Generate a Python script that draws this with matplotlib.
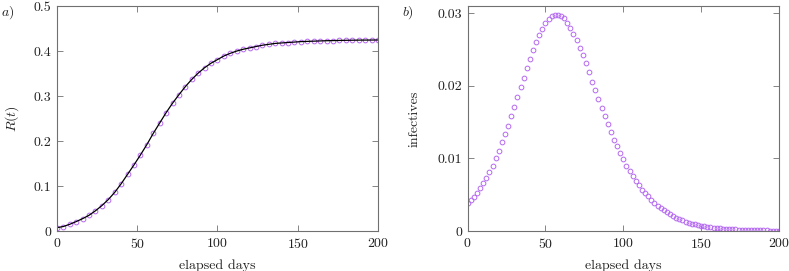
import numpy as np
import matplotlib
matplotlib.use("Agg")
import matplotlib.pyplot as plt

plt.rcParams['font.family'] = 'serif'
plt.rcParams['font.serif'] = ['cmr10']
plt.rcParams['mathtext.fontset'] = 'cm'
plt.rcParams['axes.formatter.use_mathtext'] = True

# R(t), sampled every 4 days
days_r = list(range(0, 201, 4))
r_vals = [0.0074, 0.010, 0.015, 0.021, 0.0275, 0.035, 0.045, 0.0565, 0.070, 0.086,
          0.105, 0.126, 0.147, 0.169, 0.192, 0.217, 0.240, 0.263, 0.284, 0.303,
          0.321, 0.337, 0.351, 0.363, 0.373, 0.381, 0.389, 0.395, 0.400, 0.404,
          0.407, 0.410, 0.413, 0.415, 0.417, 0.418, 0.419, 0.420, 0.421, 0.4215,
          0.422, 0.4225, 0.423, 0.4233, 0.4236, 0.4239, 0.4241, 0.4243, 0.4244, 0.4245,
          0.4246]

# infectives, sampled every 2 days
days_i = list(range(0, 201, 2))
i_vals = [0.00383, 0.00425, 0.0047, 0.00526, 0.0059, 0.0066, 0.0073, 0.0082, 0.0090, 0.0101,
          0.0110, 0.0122, 0.0133, 0.0145, 0.0158, 0.0171, 0.0184, 0.0198, 0.0211, 0.0224,
          0.0237, 0.0249, 0.0260, 0.0270, 0.0279, 0.0286, 0.0292, 0.0296, 0.0298, 0.0298,
          0.0296, 0.0293, 0.0287, 0.0280, 0.0271, 0.0263, 0.0252, 0.0242, 0.0231, 0.0219,
          0.0206, 0.0194, 0.0182, 0.0170, 0.0158, 0.0147, 0.0137, 0.0126, 0.0117, 0.0107,
          0.0099, 0.0090, 0.0083, 0.0076, 0.0069, 0.0063, 0.0057, 0.0052, 0.0048, 0.0043,
          0.0039, 0.0035, 0.0032, 0.0029, 0.0026, 0.0023, 0.0021, 0.0018, 0.0017, 0.0015,
          0.0013, 0.00115, 0.0010, 0.0009, 0.0008, 0.0007, 0.00065, 0.0006, 0.00052, 0.00046,
          0.00041, 0.00037, 0.00033, 0.00029, 0.00026, 0.00023, 0.00021, 0.00019, 0.00017, 0.00015,
          0.00013, 0.00012, 0.00011, 0.0001, 0.00009, 0.00008, 0.00007, 0.00006, 0.000055, 0.00005,
          0.000045]

PURPLE = '#b468f0'
FRAME = '#707070'
TXT = '#222222'
FS = 10

fig = plt.figure(figsize=(7.89, 2.71), dpi=100)
ax1 = fig.add_axes([0.0722, 0.1476, 0.4068, 0.830])
ax2 = fig.add_axes([0.5927, 0.1476, 0.3946, 0.830])

ax1.plot(days_r, r_vals, 'o', ms=3.4, mfc='none', mec=PURPLE, mew=0.7)
ax1.plot(days_r, r_vals, '-', color='black', lw=0.9)
ax1.set_ylim(0, 0.5)
ax1.set_yticks([0, 0.1, 0.2, 0.3, 0.4, 0.5])
ax1.set_yticklabels(['0', '0.1', '0.2', '0.3', '0.4', '0.5'])
ax1.set_ylabel(r'$R(t)$', fontsize=FS, labelpad=9, color=TXT)

ax2.plot(days_i, i_vals, 'o', ms=3.4, mfc='none', mec=PURPLE, mew=0.7)
ax2.set_ylim(0, 0.031)
ax2.set_yticks([0, 0.01, 0.02, 0.03])
ax2.set_yticklabels(['0', '0.01', '0.02', '0.03'])
ax2.set_ylabel('infectives', fontsize=FS, labelpad=12, color=TXT)

for ax in (ax1, ax2):
    ax.set_xlim(0, 200)
    ax.set_xticks([0, 50, 100, 150, 200])
    ax.set_xlabel('elapsed days', fontsize=FS, labelpad=6, color=TXT)
    ax.tick_params(direction='in', top=True, right=True, length=4, width=0.6,
                   color=FRAME, labelsize=FS, labelcolor=TXT)
    ax.tick_params(axis='x', pad=4.5)
    ax.tick_params(axis='y', pad=4)
    for sp in ax.spines.values():
        sp.set_color(FRAME)
        sp.set_linewidth(0.8)

fig.text(0.001, 0.985, r'$a)$', fontsize=FS, ha='left', va='top', color=TXT)
fig.text(0.509, 0.985, r'$b)$', fontsize=FS, ha='left', va='top', color=TXT)

fig.savefig('out.png', dpi=100)
